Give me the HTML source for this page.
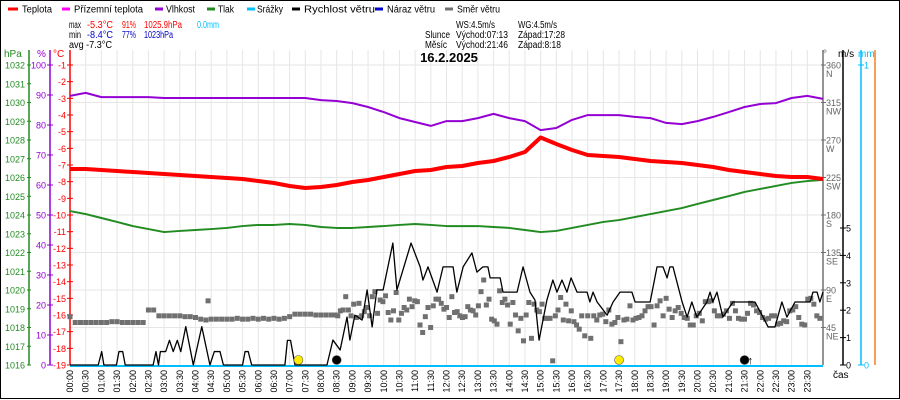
<!DOCTYPE html>
<html><head><meta charset="utf-8"><style>
html,body{margin:0;padding:0;background:#fff}
svg{display:block}
text{font-family:"Liberation Sans",sans-serif}
</style></head><body>
<svg id="chart" width="900" height="400" viewBox="0 0 900 400" xmlns="http://www.w3.org/2000/svg">
<rect x="0.5" y="0.5" width="899" height="398" fill="#fff" stroke="#000"/>
<g id="grid"></g>
<g id="legend" font-size="10" lengthAdjust="spacingAndGlyphs">
 <g><line x1="8" y1="9" x2="18" y2="9" stroke="#f00" stroke-width="3"/><text x="22" y="12.5" textLength="30" lengthAdjust="spacingAndGlyphs">Teplota</text></g>
 <g><line x1="62" y1="9" x2="70" y2="9" stroke="#f0f" stroke-width="3"/><text x="74" y="12.5" textLength="69" lengthAdjust="spacingAndGlyphs">Přízemní teplota</text></g>
 <g><line x1="155" y1="9" x2="163" y2="9" stroke="#9400d3" stroke-width="3"/><text x="166" y="12.5" textLength="29" lengthAdjust="spacingAndGlyphs">Vlhkost</text></g>
 <g><line x1="207" y1="9" x2="215" y2="9" stroke="#228b22" stroke-width="3"/><text x="218" y="12.5" textLength="16" lengthAdjust="spacingAndGlyphs">Tlak</text></g>
 <g><line x1="247" y1="9" x2="255" y2="9" stroke="#00bfff" stroke-width="3"/><text x="257" y="12.5" textLength="26" lengthAdjust="spacingAndGlyphs">Srážky</text></g>
 <g><line x1="292" y1="9" x2="300" y2="9" stroke="#000" stroke-width="3"/><text x="304" y="12.5" textLength="71" lengthAdjust="spacingAndGlyphs">Rychlost větru</text></g>
 <g><line x1="375" y1="9" x2="383" y2="9" stroke="#0000cd" stroke-width="3"/><text x="387" y="12.5" textLength="48" lengthAdjust="spacingAndGlyphs">Náraz větru</text></g>
 <g><line x1="445" y1="9" x2="453" y2="9" stroke="#707070" stroke-width="3"/><text x="457" y="12.5" textLength="43" lengthAdjust="spacingAndGlyphs">Směr větru</text></g>
</g>
<g font-size="10">
 <text x="69" y="28" textLength="12" lengthAdjust="spacingAndGlyphs">max</text><text x="87" y="28" fill="#f00" textLength="26" lengthAdjust="spacingAndGlyphs">-5.3°C</text><text x="122" y="28" fill="#f00" textLength="14" lengthAdjust="spacingAndGlyphs">91%</text><text x="144" y="28" fill="#f00" textLength="38" lengthAdjust="spacingAndGlyphs">1025.9hPa</text><text x="197" y="28" fill="#00bfff" textLength="22" lengthAdjust="spacingAndGlyphs">0.0mm</text>
 <text x="69" y="38" textLength="12" lengthAdjust="spacingAndGlyphs">min</text><text x="87" y="38" fill="#00c" textLength="26" lengthAdjust="spacingAndGlyphs">-8.4°C</text><text x="122" y="38" fill="#00c" textLength="14" lengthAdjust="spacingAndGlyphs">77%</text><text x="144" y="38" fill="#00c" textLength="29" lengthAdjust="spacingAndGlyphs">1023hPa</text>
 <text x="69" y="48" textLength="43" lengthAdjust="spacingAndGlyphs">avg -7.3°C</text>
 <text x="456" y="28" textLength="39" lengthAdjust="spacingAndGlyphs">WS:4.5m/s</text><text x="518" y="28" textLength="39" lengthAdjust="spacingAndGlyphs">WG:4.5m/s</text>
 <text x="425" y="38" textLength="25" lengthAdjust="spacingAndGlyphs">Slunce</text><text x="456" y="38" textLength="52" lengthAdjust="spacingAndGlyphs">Východ:07:13</text><text x="518" y="38" textLength="47" lengthAdjust="spacingAndGlyphs">Západ:17:28</text>
 <text x="425" y="48" textLength="22" lengthAdjust="spacingAndGlyphs">Měsíc</text><text x="456" y="48" textLength="52" lengthAdjust="spacingAndGlyphs">Východ:21:46</text><text x="518" y="48" textLength="43" lengthAdjust="spacingAndGlyphs">Západ:8:18</text>
</g>
<text x="449" y="62" font-size="13" font-weight="bold" text-anchor="middle">16.2.2025</text>
<g font-size="10">
 <text x="4" y="57" fill="#228b22">hPa</text><text x="37" y="57" fill="#9400d3">%</text><text x="53" y="57" fill="#f00">°C</text>
 <text x="823" y="57" fill="#666">°</text><text x="838" y="57">m/s</text><text x="858" y="57" fill="#00bfff">mm</text>
 <text x="833" y="378">čas</text>
</g>
<g id="axes"></g>
<g id="series"></g>
</svg>
<script>
const tempHalfHour = [-7.24,-7.24,-7.30,-7.36,-7.42,-7.48,-7.54,-7.60,-7.66,-7.72,-7.78,-7.84,-7.96,-8.08,-8.26,-8.38,-8.32,-8.20,-8.02,-7.90,-7.72,-7.54,-7.36,-7.30,-7.12,-7.06,-6.88,-6.76,-6.52,-6.22,-5.35,-5.74,-6.10,-6.40,-6.46,-6.52,-6.64,-6.76,-6.82,-6.88,-7.00,-7.12,-7.30,-7.42,-7.54,-7.66,-7.72,-7.72,-7.84];
const humHalfHour = [89.7,90.7,89.3,89.3,89.3,89.3,89,89,89,89,89,89,89,89,89,89,88.3,88,87.3,86,84.3,82.3,81,79.7,81.3,81.3,82.3,83.7,82.3,81.3,78.3,79,81.7,83.3,83.3,83.3,82.7,82.3,80.7,80.3,81.3,82.7,84.3,86,87,87.3,89,89.7,88.7];
const pressHalfHour = [1024.21,1024.05,1023.84,1023.63,1023.41,1023.25,1023.09,1023.15,1023.2,1023.25,1023.31,1023.41,1023.47,1023.47,1023.52,1023.47,1023.36,1023.31,1023.31,1023.36,1023.41,1023.47,1023.52,1023.47,1023.41,1023.41,1023.41,1023.36,1023.31,1023.2,1023.09,1023.15,1023.31,1023.47,1023.63,1023.73,1023.89,1024.05,1024.21,1024.37,1024.59,1024.8,1025.01,1025.23,1025.39,1025.55,1025.71,1025.81,1025.87];
const windHours = [0,0.9,1.01,1.08,1.48,1.56,1.68,1.76,2.65,2.74,2.82,2.88,3.05,3.17,3.29,3.42,3.53,3.69,3.93,4.2,4.46,4.6,4.78,4.89,5.5,5.58,5.68,5.79,6.85,6.93,7.03,7.17,8.1,8.19,8.38,8.61,8.83,8.92,9.08,9.31,9.47,9.63,9.78,9.98,10.29,10.42,10.87,11.16,11.25,11.41,11.70,11.89,12.21,12.33,12.53,12.81,12.97,13.16,13.32,13.39,13.71,13.80,14.25,14.44,14.66,14.82,14.95,15.20,15.39,15.52,15.68,15.84,15.97,16.16,16.48,16.57,16.67,16.80,17.12,17.31,17.53,17.91,18.01,18.49,18.71,18.90,19.03,19.12,19.22,19.51,19.67,19.82,19.98,20.30,20.40,20.49,20.62,20.81,21.13,21.51,21.83,22.09,22.25,22.47,22.69,22.85,23.11,23.59,23.68,23.81,23.90,24];
const windSpeed = [0,0,0.49,0,0,0.49,0.49,0,0,0.49,0,0.49,0.49,0.9,0.49,0.9,0.49,1.4,0,1.4,0,0.49,0.49,0,0,0.49,0.49,0,0,0.9,0.9,0,0,0,0.91,0.55,1.75,0.91,1.82,1.64,2.74,1.39,2.74,2.74,4.45,2.74,4.45,3.58,3.10,3.58,2.66,3.58,3.58,2.66,3.58,4.09,3.39,3.58,3.58,3.18,3.18,2.66,2.66,3.58,2.66,2.37,0.91,2.37,3.10,2.66,3.10,2.66,3.18,2.66,2.66,2.30,2.66,2.30,1.82,2.30,2.66,2.66,2.30,2.30,3.58,3.58,3.18,3.58,3.58,2.30,1.75,2.30,1.75,2.30,2.66,2.30,2.66,1.75,2.30,2.30,2.30,1.75,1.39,1.39,2.30,1.75,2.30,2.30,2.66,2.66,2.30,2.66];
const dirEarly = [58,51,51,51,51,51,51,51,52,52,51,51,51,51,51,66,66,59,59,59,59,59,58,58,57,55,54,55,55,55,55,55,56,55,55,56,55,56,55,56,55,56,58,61,61,61,61,60,60,60,60];
const dirMid = [60,59,65,66,82,66,59,73,57,74,59,64,69,59,82,88,62,78,76,83,63,54,65,87,54,62,69,66,79,70,77,76,48,39,58,69,45,71,79,79,74,67,69,57,82,63,64,59,57,58,70,66,65,60,71,88,102,72,79,55,53,49,89,75,79,72,49,75,60,41,56,29,60,75,32,73,66,64,73,56,56,56,5,59,66,81,54,73,53,65,52,48,43];
const dirLate = [59,35,59,32,59,54,60,61,52,66,49,51,57,28,54,55,71,54,56,57,59,65,70,70,48,71,77,59,80,67,57,65,69,62,57,56,48,48,59,62,53,76,76,77,65,59,59,61,65,56,74,65,56,55,55,62,74,72,65,63,57,55,56,59,59,49,50,53,52,65,66,70,57,49,48,79,80,73,59,56];
const dirExtraHours = [4.4];
const dirExtraDeg = [77];
const hpaTicks = [1032,1031,1030,1029,1028,1027,1026,1025,1024,1023,1022,1021,1020,1019,1018,1017,1016];
const pctTicks = [100,90,80,70,60,50,40,30,20,10,0];
const degCTicks = [-1,-2,-3,-4,-5,-6,-7,-8,-9,-10,-11,-12,-13,-14,-15,-16,-17,-18,-19];
const dirTicks = [360,315,270,225,180,135,90,45];
const dirNames = ['N','NW','W','SW','S','SE','E','NE'];
const msTicks = [0,1,2,3,4,5];
const mmTicks = [0,1];

const NS='http://www.w3.org/2000/svg';
const X0=70,X1=823,YT=65,YB=365;
const xH=h=>X0+h/24*(X1-X0);
const yT=t=>YT+(-1-t)/18*(YB-YT);
const yP=p=>YB-p/100*(YB-YT);
const yHpa=v=>YB-(v-1016)/16*(YB-YT);
const yDir=d=>YB-d/360*(YB-YT);
const yMs=v=>YB-v*27.4;
const yMm=v=>YB-v*(YB-YT);
function mk(tag,attrs,parent){const e=document.createElementNS(NS,tag);for(const k in attrs)e.setAttribute(k,attrs[k]);parent.appendChild(e);return e;}
const grid=document.getElementById('grid'),axes=document.getElementById('axes'),ser=document.getElementById('series');

for(let k=0;k<=48;k++){const x=xH(k/2);
 const l=mk('line',{x1:x,y1:50,x2:x,y2:YB,stroke:'#e6e6e6'},grid);
 
 
 if(k<48){const hh=String(Math.floor(k/2)).padStart(2,'0')+':'+(k%2?'30':'00');
  const t=mk('text',{x:0,y:0,'font-size':'9','font-family':'Liberation Mono, monospace',transform:`translate(${x+3},370) rotate(-90)`,'text-anchor':'end'},axes);
  t.textContent=hh;
  
  }
}
dirTicks.forEach(d=>{const l=mk('line',{x1:X0,y1:yDir(d),x2:X1,y2:yDir(d),stroke:'#e6e6e6'},grid);
 
 });

mk('line',{x1:29,y1:50,x2:29,y2:YB,stroke:'#228b22','stroke-width':1.5},axes);
mk('line',{x1:50,y1:50,x2:50,y2:YB,stroke:'#9400d3','stroke-width':1.5},axes);
mk('line',{x1:70,y1:50,x2:70,y2:YB,stroke:'#f00','stroke-width':1.5},axes);
hpaTicks.forEach(v=>{const y=yHpa(v);mk('line',{x1:27,y1:y,x2:31,y2:y,stroke:'#228b22'},axes);
 const t=mk('text',{x:25,y:y+3.5,'font-size':'9','text-anchor':'end',fill:'#228b22'},axes);t.textContent=v;
 
 });
pctTicks.forEach(v=>{const y=yP(v);mk('line',{x1:47,y1:y,x2:53,y2:y,stroke:'#9400d3'},axes);
 const t=mk('text',{x:46,y:y+3.5,'font-size':'9','text-anchor':'end',fill:'#9400d3'},axes);t.textContent=v;
 
 });
degCTicks.forEach(v=>{const y=yT(v);mk('line',{x1:67,y1:y,x2:73,y2:y,stroke:'#f00'},axes);
 const t=mk('text',{x:66,y:y+3.5,'font-size':'9','text-anchor':'end',fill:'#f00'},axes);t.textContent=v;
 
 });
mk('line',{x1:823,y1:50,x2:823,y2:YB,stroke:'#707070','stroke-width':1.5},axes);
mk('line',{x1:843,y1:50,x2:843,y2:YB,stroke:'#000','stroke-width':1.5},axes);
mk('line',{x1:861,y1:50,x2:861,y2:YB,stroke:'#00bfff','stroke-width':1.5},axes);
mk('line',{x1:875,y1:50,x2:875,y2:YB,stroke:'#f08020','stroke-width':1.5},axes);
dirTicks.forEach((d,i)=>{const y=yDir(d);mk('line',{x1:821,y1:y,x2:826,y2:y,stroke:'#707070'},axes);
 const t=mk('text',{x:826,y:y+3.5,'font-size':'9',fill:'#666'},axes);t.textContent=d;
 
 
 const n=mk('text',{x:826,y:y+12,'font-size':'9',fill:'#666'},axes);n.textContent=dirNames[i];
 
 });
msTicks.forEach(v=>{const y=yMs(v);mk('line',{x1:840,y1:y,x2:846,y2:y,stroke:'#000'},axes);
 const t=mk('text',{x:846,y:y+3.5,'font-size':'9'},axes);t.textContent=v;
 
 });
mmTicks.forEach(v=>{const y=yMm(v);mk('line',{x1:858,y1:y,x2:864,y2:y,stroke:'#00bfff'},axes);
 const t=mk('text',{x:864,y:y+3.5,'font-size':'9',fill:'#00bfff'},axes);t.textContent=v;
 
 });

function dirPt(h,d){const r=mk('rect',{x:xH(h)-2.5,y:yDir(d)-2.5,width:5,height:5,fill:'#707070'},ser);
 
 }
dirEarly.forEach((d,i)=>dirPt(i/6,d));
dirMid.forEach((d,i)=>dirPt(8.45+i*(16.23-8.45)/(dirMid.length-1),d));
dirLate.forEach((d,i)=>dirPt(16.31+i*(23.9-16.31)/(dirLate.length-1),d));
dirExtraHours.forEach((h,i)=>dirPt(h,dirExtraDeg[i]));

function poly(xs,ys,color,w,name){const p=mk('polyline',{points:xs.map((x,i)=>x+','+ys[i]).join(' '),fill:'none',stroke:color,'stroke-width':w,'stroke-linejoin':'round'},ser);
 
 }
const hx=tempHalfHour.map((_,i)=>xH(i/2));
poly(hx,pressHalfHour.map(yHpa),'#228b22',2,'pressure-line');
poly(hx,humHalfHour.map(yP),'#9400d3',2,'humidity-line');
poly(hx,tempHalfHour.map(yT),'#f00',4,'temperature-line');
const rl=mk('line',{x1:X0,y1:366,x2:X1,y2:366,stroke:'#00bfff','stroke-width':2},ser);


poly(windHours.map(xH),windSpeed.map(yMs),'#000',1.3,'wind-speed-line');

[[7.28,'#ffeb00'],[17.5,'#ffeb00'],[8.5,'#000'],[21.5,'#000']].forEach(m=>{const c=mk('circle',{cx:xH(m[0]),cy:360,r:4.5,fill:m[1],stroke:'#555','stroke-width':0.6},ser);
 
 });
const ar=mk('text',{x:xH(21.5)+3,y:364,'font-size':'11'},ser);ar.textContent='↑';


</script>
</body></html>
